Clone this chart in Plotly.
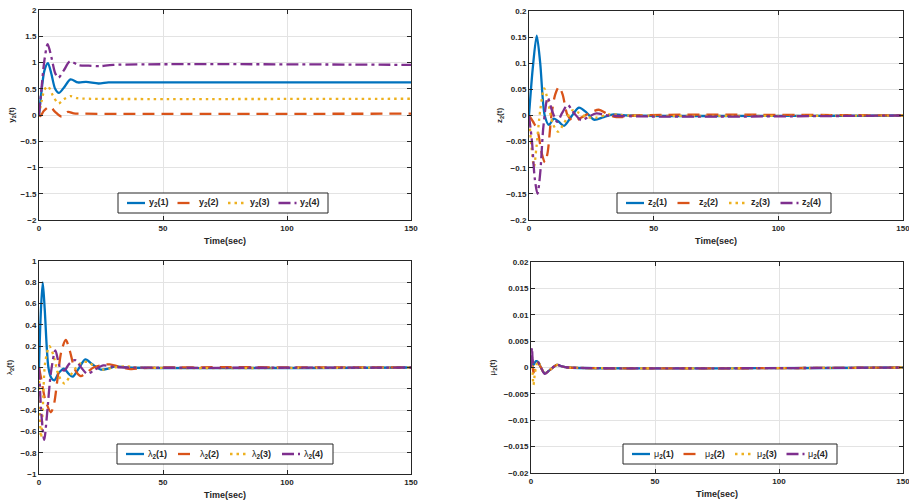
import plotly.graph_objects as go

# ---------------- data ----------------
# Panel 1: y2(t)
y1_t = [0, 1, 2.2, 3.6, 5, 6.5, 8, 10, 12.7, 15.7, 19, 24, 28, 35, 150]
y1_v = [0, 0.45, 0.85, 0.99, 0.78, 0.5, 0.42, 0.52, 0.68, 0.62, 0.63, 0.60, 0.62, 0.62, 0.62]
y2_t = [0, 0.6, 2, 4.4, 6.5, 9.1, 11.7, 14, 18, 150]
y2_v = [0, -0.02, 0.08, 0.16, 0.06, -0.03, 0.06, 0.03, 0.025, 0.025]
y3_t = [0, 1, 2.2, 3.6, 5.5, 7.8, 10, 12.7, 15.5, 20, 150]
y3_v = [0, 0.25, 0.48, 0.55, 0.38, 0.22, 0.3, 0.36, 0.32, 0.31, 0.31]
y4_t = [0, 1, 2.2, 3.5, 5, 6.5, 7.8, 10, 12.5, 16, 20, 24.5, 30, 150]
y4_v = [0, 0.5, 1.05, 1.35, 1.1, 0.8, 0.71, 0.85, 1.02, 0.95, 0.94, 0.93, 0.955, 0.955]

# Panel 2: z2(t)
z1_t = [0, 1.5, 3.1, 4.5, 6.3, 8, 10, 12, 14, 17, 20, 23, 26, 30, 34, 40, 150]
z1_v = [0, 0.09, 0.153, 0.1, 0.0, -0.018, -0.006, -0.012, -0.02, -0.002, 0.015, 0.006, -0.008, -0.003, 0.002, 0, 0]
z2_t = [0, 2, 3.5, 5, 6.4, 7.5, 9, 10.5, 12, 13.5, 15.5, 18, 21, 24, 28, 31, 34, 37, 42, 150]
z2_v = [0, -0.015, -0.03, -0.07, -0.09, -0.07, 0.0, 0.04, 0.055, 0.04, 0.0, -0.011, -0.004, 0.004, 0.011, 0.004, -0.002, -0.003, 0, 0]
z3_t = [0, 1, 2, 3, 4.5, 6.1, 7.5, 9.5, 11.7, 14, 17.5, 20, 23, 27, 32, 40, 150]
z3_v = [0, -0.06, -0.098, -0.06, 0.01, 0.052, 0.03, -0.015, -0.031, -0.015, 0.01, 0.005, -0.003, -0.004, 0.002, 0, 0]
z4_t = [0, 1.2, 2.3, 3.4, 4.5, 5.8, 7.5, 9.2, 11.3, 13.3, 15.5, 18, 21, 24, 27, 32, 150]
z4_v = [0, -0.05, -0.12, -0.15, -0.11, -0.02, 0.034, 0.01, -0.012, 0.005, 0.02, 0.005, -0.009, -0.002, 0.004, 0, 0]

# Panel 3: lambda2(t)
l1_t = [0, 0.7, 1.5, 2.3, 3.8, 5, 6.2, 8, 10, 12, 13.6, 16, 18.7, 21.5, 25, 28, 31, 36, 150]
l1_v = [0, 0.5, 0.8, 0.55, 0.0, -0.1, -0.12, -0.05, -0.01, -0.06, -0.086, -0.01, 0.077, 0.03, -0.02, -0.01, 0.01, 0, 0]
l2_t = [0, 1, 2.5, 4.8, 6, 7.5, 9, 10.8, 12.5, 14.5, 16.8, 19, 22, 25, 28.5, 32, 37, 42, 48, 150]
l2_v = [0, -0.12, -0.3, -0.42, -0.35, -0.1, 0.15, 0.26, 0.15, -0.02, -0.08, -0.05, 0.0, 0.02, 0.03, 0.01, -0.015, -0.005, 0, 0]
l3_t = [0, 0.3, 0.8, 1.5, 2.5, 4.2, 6, 8, 10.3, 12.5, 15, 17.5, 19.8, 23, 26, 30, 35, 40, 150]
l3_v = [0, -0.4, -0.66, -0.4, 0.05, 0.2, 0.1, -0.08, -0.15, -0.08, 0.0, 0.05, 0.05, 0.0, -0.02, 0.0, 0.01, 0, 0]
l4_t = [0, 1, 2.1, 3.2, 4.8, 6.6, 8.5, 10.2, 12, 14.5, 17, 19.5, 22.5, 26, 30, 35, 150]
l4_v = [0, -0.45, -0.68, -0.45, -0.05, 0.16, 0.0, -0.03, 0.03, 0.07, 0.0, -0.06, -0.02, 0.02, 0.005, 0, 0]

# Panel 4: mu2(t)
m1_t = [0, 0.5, 1, 2, 3, 4, 5.5, 7.5, 10.5, 12.5, 15, 150]
m1_v = [0, 0.0015, 0.0005, 0.0012, 0.001, 0, -0.0011, -0.0005, 0.0005, 0.0002, 0, 0]
m2_t = [0, 0.4, 1, 2.5, 4, 5.5, 7.5, 10.5, 12.5, 15, 150]
m2_v = [0, 0.002, -0.001, 0.001, 0, -0.0011, -0.0005, 0.0005, 0.0002, 0, 0]
m3_t = [0, 0.3, 1, 1.6, 2.8, 4, 5.5, 7.5, 10.5, 12.5, 15, 150]
m3_v = [0, 0.002, -0.0033, -0.001, 0.0012, 0, -0.0011, -0.0005, 0.0005, 0.0002, 0, 0]
m4_t = [0, 0.4, 1, 2.5, 4, 5.5, 7.5, 10.5, 12.5, 15, 150]
m4_v = [0, 0.0037, 0.001, 0.0012, 0, -0.0012, -0.0005, 0.0005, 0.0002, 0, 0]

x_ticks = [0, 50, 100, 150]
x_title = "Time(sec)"

# ---------------- styling ----------------
colors = ['#0072BD', '#D95319', '#EDB120', '#7E2F8E']
dashes = ['solid', '12px,7px', '2.5px,4px', '12px,4px,3px,4px']
FONT = 'Liberation Sans, Arial, sans-serif'
AX = '#262626'

panels = [
    dict(series=[(y1_t, y1_v), (y2_t, y2_v), (y3_t, y3_v), (y4_t, y4_v)],
         sym='y', yr=[-2, 2], dt=0.5, so=4,
         dom_x=[39, 411], dom_y=[10, 220], leg=(118, 193, 210)),
    dict(series=[(z1_t, z1_v), (z2_t, z2_v), (z3_t, z3_v), (z4_t, z4_v)],
         sym='z', yr=[-0.2, 0.2], dt=0.05, so=2,
         dom_x=[529, 903], dom_y=[11, 220], leg=(617, 193, 214)),
    dict(series=[(l1_t, l1_v), (l2_t, l2_v), (l3_t, l3_v), (l4_t, l4_v)],
         sym='λ', yr=[-1, 1], dt=0.2, so=6,
         dom_x=[39, 411], dom_y=[261, 474], leg=(117, 444, 216)),
    dict(series=[(m1_t, m1_v), (m2_t, m2_v), (m3_t, m3_v), (m4_t, m4_v)],
         sym='μ', yr=[-0.02, 0.02], dt=0.005, so=6,
         dom_x=[531, 903], dom_y=[262, 473], leg=(623, 444, 214)),
]

W, H = 909, 503
fig = go.Figure()
layout = dict(width=W, height=H, margin=dict(l=0, r=0, t=0, b=0, autoexpand=False),
              paper_bgcolor='white', plot_bgcolor='white',
              font=dict(family=FONT, size=8, color=AX, weight='bold'),
              showlegend=False)
shapes, annos = [], []


def sym_html(s):
    if s in ('λ', 'μ'):
        return '<span style="font-weight:normal">%s</span>' % s
    return s


for i, p in enumerate(panels, start=1):
    xa = 'x' if i == 1 else 'x%d' % i
    ya = 'y' if i == 1 else 'y%d' % i
    names = ['%s<sub>2</sub>(%d)' % (sym_html(p['sym']), k + 1) for k in range(4)]
    for k, (t, v) in enumerate(p['series']):
        fig.add_trace(go.Scatter(
            x=t, y=v, mode='lines', xaxis=xa, yaxis=ya, name=names[k],
            line=dict(color=colors[k], width=2.3, dash=dashes[k],
                      shape='spline', smoothing=0.8)))
    xk = 'xaxis' if i == 1 else 'xaxis%d' % i
    yk = 'yaxis' if i == 1 else 'yaxis%d' % i
    x0, x1 = p['dom_x']
    ytop, ybot = p['dom_y']
    common = dict(showline=True, linecolor=AX, linewidth=1, mirror='ticks',
                  ticks='inside', ticklen=4, tickcolor=AX,
                  showgrid=True, gridcolor='#e3e3e3', gridwidth=1,
                  zeroline=False, automargin=False, ticklabeloverflow='allow',
                  tickfont=dict(family=FONT, size=8, color=AX, weight='bold'))
    layout[xk] = dict(common, domain=[x0 / W, x1 / W], range=[0, 150],
                      tickvals=x_ticks, anchor=ya,
                      title=dict(text=x_title, standoff=6,
                                 font=dict(family=FONT, size=9, color=AX, weight='bold')))
    yr = p['yr']
    layout[yk] = dict(common, domain=[1 - ybot / H, 1 - ytop / H], range=yr,
                      dtick=p['dt'], tick0=yr[0], anchor=xa,
                      title=dict(text='%s<sub>2</sub>(t)' % sym_html(p['sym']), standoff=p['so'],
                                 font=dict(family=FONT, size=8, color=AX, weight='bold')))
    # legend box (drawn like the MATLAB legend)
    lx, ly, lw = p['leg']
    lh = 20
    shapes.append(dict(type='rect', xref='paper', yref='paper',
                       x0=lx / W, x1=(lx + lw) / W, y0=1 - (ly + lh) / H, y1=1 - ly / H,
                       line=dict(color=AX, width=1), fillcolor='white', layer='above'))
    cy = 1 - (ly + lh / 2) / H
    step = (lw - 8) / 4.0
    for k in range(4):
        sx = lx + 9 + k * step
        shapes.append(dict(type='line', xref='paper', yref='paper',
                           x0=sx / W, x1=(sx + 18) / W, y0=cy, y1=cy, layer='above',
                           line=dict(color=colors[k], width=2.3, dash=dashes[k])))
        annos.append(dict(xref='paper', yref='paper', x=(sx + 19.5) / W, y=cy,
                          xanchor='left', yanchor='middle', showarrow=False,
                          text=names[k],
                          font=dict(family=FONT, size=9, color=AX, weight='bold')))

layout['shapes'] = shapes
layout['annotations'] = annos
fig.update_layout(**layout)
fig.write_html("out.html", config={'displayModeBar': False},
               post_script="document.body.style.margin='0px';document.body.style.overflow='hidden';")
